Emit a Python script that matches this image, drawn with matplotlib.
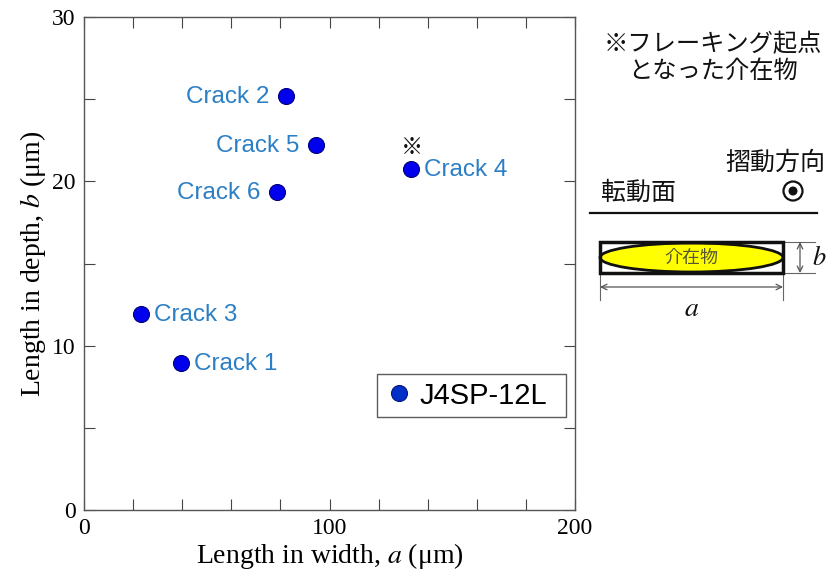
import matplotlib
matplotlib.use('Agg')
import matplotlib.pyplot as plt
from matplotlib.patches import Rectangle, Ellipse, Circle

# ---- data ----
crack_labels = ['Crack 1', 'Crack 2', 'Crack 3', 'Crack 4', 'Crack 5', 'Crack 6']
width_a = [39.5, 82.3, 23.2, 133.2, 94.5, 78.6]
depth_b = [8.95, 25.2, 11.9, 20.75, 22.2, 19.35]
label_side = ['right', 'left', 'right', 'right', 'left', 'left']
series_name = 'J4SP-12L'
flaking_origin = 'Crack 4'
x_ticks = [0, 100, 200]
y_ticks = [0, 10, 20, 30]
x_minor = [20, 40, 60, 80, 120, 140, 160, 180]
y_minor = [5, 15, 25]

plt.rcParams['mathtext.fontset'] = 'stix'
SERIF = ['Liberation Serif', 'DejaVu Serif']
SANS = ['Liberation Sans', 'DejaVu Sans']
JP = ['Noto Sans CJK JP', 'DejaVu Sans']

fig = plt.figure(figsize=(8.3, 5.77), dpi=100)
W, H = 830, 577
ax = fig.add_axes([84 / W, 1 - 510 / H, 491 / W, 493 / H])

ax.plot(width_a, depth_b, 'o', ms=11.5, color='#0000ee', mec='#00007a', mew=0.8,
        linestyle='none', zorder=3)
# legend proxy
ax.plot([], [], 'o', ms=11.5, color='#0030c8', mec='#001a80', mew=0.8,
        linestyle='none', label=series_name)

for lab, a, b, side in zip(crack_labels, width_a, depth_b, label_side):
    dx = 13 if side == 'right' else -17
    ax.annotate(lab, (a, b), xytext=(dx, -1), textcoords='offset pixels',
                ha='left' if side == 'right' else 'right', va='center',
                fontsize=17.5, color='#2b7fc4', family=SANS)
    if lab == flaking_origin:
        ax.annotate('※', (a, b), xytext=(1, 22), textcoords='offset pixels',
                    ha='center', va='center', fontsize=16, color='#111111', family=JP)

ax.set_xlim(0, 200)
ax.set_ylim(0, 30)
ax.set_xticks(x_ticks)
ax.set_yticks(y_ticks)
ax.set_xticks(x_minor, minor=True)
ax.set_yticks(y_minor, minor=True)
ax.tick_params(which='both', direction='in', top=True, right=True, length=8,
               width=0.8, color='#444444', labelsize=17, pad=6)
for lbl in ax.get_xticklabels() + ax.get_yticklabels():
    lbl.set_family(SERIF)
for s in ax.spines.values():
    s.set_color('#555555')
    s.set_linewidth(1.0)

ax.set_xlabel('Length in width, $a$ (μm)', fontsize=20, family=SERIF, labelpad=1)
ax.set_ylabel('Length in depth, $b$ (μm)', fontsize=20, family=SERIF, labelpad=3)

leg = ax.legend(loc='lower left', bbox_to_anchor=(0.597, 0.189, 0.385, 0.091),
                mode='expand', borderaxespad=0,
                frameon=True, fancybox=False, edgecolor='#333333',
                prop={'family': SANS, 'size': 21}, handletextpad=0.2,
                handlelength=1.0, borderpad=0.25, markerscale=1.0)
leg.get_frame().set_linewidth(1.0)

# ---- right-side schematic (figure pixel coordinates) ----
ov = fig.add_axes([0, 0, 1, 1])
ov.set_xlim(0, W)
ov.set_ylim(H, 0)
ov.axis('off')
ov.patch.set_alpha(0)

ov.text(713, 44, '※フレーキング起点', ha='center', va='center', fontsize=17.5,
        family=JP, color='#111111')
ov.text(713, 71, 'となった介在物', ha='center', va='center', fontsize=17.5,
        family=JP, color='#111111')
ov.text(775, 163, '摺動方向', ha='center', va='center', fontsize=18,
        family=JP, color='#111111')
ov.text(601, 193, '転動面', ha='left', va='center', fontsize=18,
        family=JP, color='#111111')
ov.add_patch(Circle((793, 191), 9.5, fill=False, ec='#111111', lw=1.6))
ov.add_patch(Circle((793, 191), 3.8, color='#111111'))
ov.plot([590, 817], [213, 213], color='#111111', lw=1.6)

ov.add_patch(Ellipse((691.5, 257.5), 183, 29, fc='#ffff00', ec='#111111', lw=2, zorder=2))
ov.add_patch(Rectangle((600, 242), 183, 31, fill=False, ec='#111111', lw=2.5, zorder=3))
ov.text(691.5, 258, '介在物', ha='center', va='center', fontsize=13,
        family=JP, color='#555533', zorder=4)

# b dimension
ov.plot([783, 815], [242, 242], color='#666666', lw=0.8)
ov.plot([783, 815], [273, 273], color='#666666', lw=0.8)
ov.annotate('', xy=(800, 242), xytext=(800, 273),
            arrowprops=dict(arrowstyle='<->', lw=0.9, color='#555555',
                            shrinkA=0, shrinkB=0))
ov.text(812, 258, '$b$', ha='left', va='center', fontsize=19, color='#111111')
# a dimension
ov.plot([600, 600], [273, 300], color='#666666', lw=0.8)
ov.plot([783, 783], [273, 300], color='#666666', lw=0.8)
ov.annotate('', xy=(600, 287), xytext=(783, 287),
            arrowprops=dict(arrowstyle='<->', lw=0.9, color='#555555',
                            shrinkA=0, shrinkB=0))
ov.text(692, 308, '$a$', ha='center', va='center', fontsize=20, color='#111111')

fig.savefig('out.png', dpi=100)
